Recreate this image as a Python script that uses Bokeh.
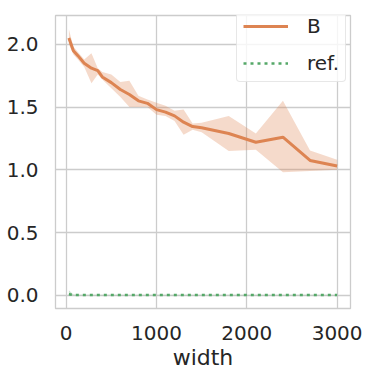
from bokeh.plotting import figure
from bokeh.models import ColumnDataSource, Range1d, Legend, LegendItem, FixedTicker, CustomJSTickFormatter
from bokeh.embed import file_html
from bokeh.resources import INLINE

# Data
widths = [30, 80, 130, 200, 280, 350, 400, 500, 600, 700, 800, 900, 1000, 1100,
          1200, 1300, 1400, 1500, 1800, 2100, 2400, 2700, 3000]
b_mean = [2.05, 1.95, 1.91, 1.85, 1.81, 1.79, 1.74, 1.695, 1.64, 1.60, 1.55, 1.53,
          1.48, 1.46, 1.43, 1.38, 1.345, 1.335, 1.29, 1.22, 1.26, 1.075, 1.03]
b_upper = [2.12, 1.98, 1.94, 1.88, 1.93, 1.81, 1.78, 1.76, 1.70, 1.71, 1.59, 1.56,
           1.535, 1.51, 1.47, 1.48, 1.37, 1.375, 1.43, 1.29, 1.55, 1.155, 1.08]
b_lower = [2.00, 1.92, 1.88, 1.82, 1.69, 1.76, 1.72, 1.65, 1.58, 1.50, 1.50, 1.50,
           1.44, 1.43, 1.39, 1.28, 1.32, 1.30, 1.15, 1.16, 0.98, 0.99, 1.00]
ref_mean = [0.008, 0.003, 0.003, 0.003, 0.003, 0.003, 0.003, 0.003, 0.003, 0.003,
            0.003, 0.003, 0.003, 0.003, 0.003, 0.003, 0.003, 0.003, 0.003, 0.003,
            0.003, 0.003, 0.003]
ref_upper = [0.04, 0.006, 0.005, 0.005, 0.005, 0.005, 0.005, 0.005, 0.005, 0.005,
             0.005, 0.005, 0.005, 0.005, 0.005, 0.005, 0.005, 0.005, 0.005, 0.005,
             0.005, 0.005, 0.005]
ref_lower = [0.0, 0.001, 0.001, 0.001, 0.001, 0.001, 0.001, 0.001, 0.001, 0.001,
             0.001, 0.001, 0.001, 0.001, 0.001, 0.001, 0.001, 0.001, 0.001, 0.001,
             0.001, 0.001, 0.001]
x_ticks = [0, 1000, 2000, 3000]
y_ticks = [0.0, 0.5, 1.0, 1.5, 2.0]

ORANGE = "#dd8452"
GREEN = "#55a868"
FONT = "DejaVu Sans"

src = ColumnDataSource(dict(x=widths, m=b_mean, u=b_upper, l=b_lower,
                            rm=ref_mean, ru=ref_upper, rl=ref_lower))

p = figure(width=366, height=373, output_backend="svg", toolbar_location=None,
           x_range=Range1d(-118, 3148), y_range=Range1d(-0.105, 2.23),
           min_border_left=55, min_border_right=16, min_border_top=15, min_border_bottom=65)

p.varea(x="x", y1="l", y2="u", source=src, fill_color=ORANGE, fill_alpha=0.3)
p.varea(x="x", y1="rl", y2="ru", source=src, fill_color=GREEN, fill_alpha=0.3)
lb = p.line(x="x", y="m", source=src, line_color=ORANGE, line_width=3)
lr = p.line(x="x", y="rm", source=src, line_color=GREEN, line_width=2.6, line_dash="3 4")

p.background_fill_color = "white"
p.outline_line_color = "#cccccc"
p.outline_line_width = 1.3

for ax in (p.xaxis[0], p.yaxis[0]):
    ax.axis_line_color = None
    ax.major_tick_line_color = None
    ax.minor_tick_line_color = None
    ax.major_label_text_font = FONT
    ax.major_label_text_font_size = "20px"
    ax.major_label_text_color = "#262626"
    ax.major_label_standoff = 11

p.xaxis.ticker = FixedTicker(ticks=x_ticks)
p.yaxis.ticker = FixedTicker(ticks=y_ticks)
p.yaxis.formatter = CustomJSTickFormatter(code="return tick.toFixed(1);")
p.xaxis.axis_label = "width"
p.xaxis.axis_label_text_font = FONT
p.xaxis.axis_label_text_font_style = "normal"
p.xaxis.axis_label_text_font_size = "22px"
p.xaxis.axis_label_text_color = "#262626"
p.xaxis.axis_label_standoff = 2

p.grid.grid_line_color = "#cccccc"
p.grid.grid_line_width = 1.3

legend = Legend(items=[LegendItem(label="B", renderers=[lb]),
                       LegendItem(label="ref.", renderers=[lr])],
                location=(181, 226))
legend.label_text_font = FONT
legend.label_text_font_size = "20px"
legend.label_text_color = "#262626"
legend.glyph_width = 45
legend.glyph_height = 20
legend.label_height = 20
legend.label_standoff = 19
legend.spacing = 13
legend.padding = 6
legend.margin = 0
legend.border_line_color = "#d0d0d0"
legend.border_line_width = 1
legend.background_fill_alpha = 0.8
legend.border_radius = 4
p.add_layout(legend, "center")

open("out.html", "w").write(file_html(p, INLINE))
